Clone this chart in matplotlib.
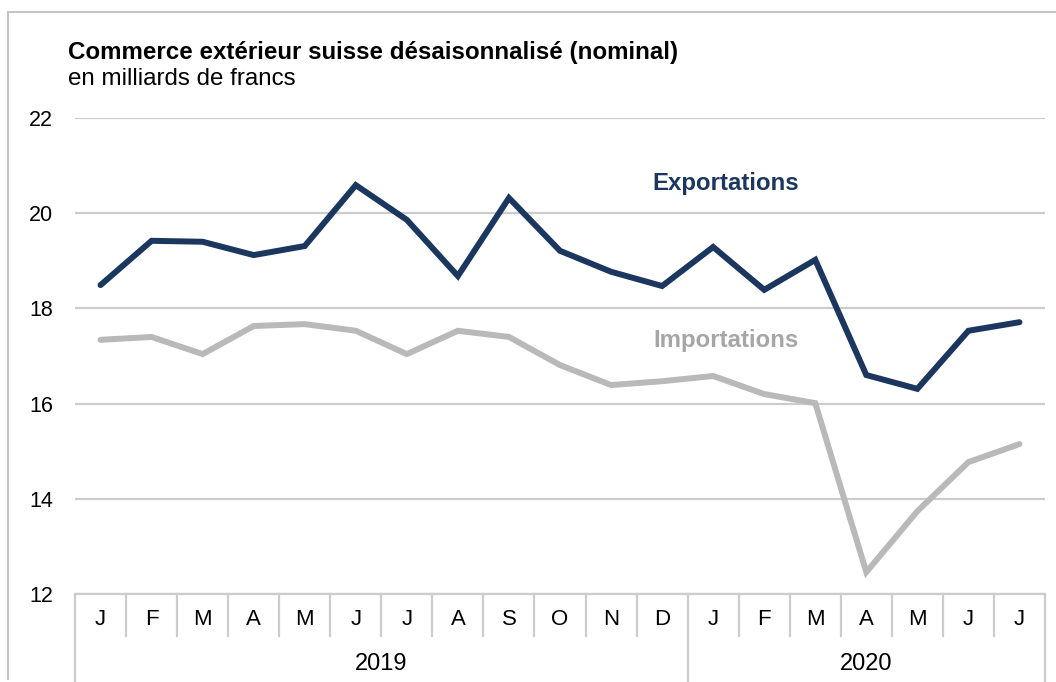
import matplotlib
matplotlib.use("Agg")
import matplotlib.pyplot as plt
from matplotlib.lines import Line2D
import numpy as np

NAVY, GREY, GRIDC = "#1b375f", "#b9b9b9", "#cccccc"
plt.rcParams.update({"font.family": ["Liberation Sans", "DejaVu Sans"]})

months = ["J", "F", "M", "A", "M", "J", "J", "A", "S", "O", "N", "D",
          "J", "F", "M", "A", "M", "J", "J"]
years = ["2019", "2020"]
year_len = [12, 7]
# seasonally adjusted, bn CHF
exports = [18.49, 19.42, 19.40, 19.12, 19.31, 20.59, 19.86, 18.68, 20.32,
           19.21, 18.77, 18.47, 19.29, 18.39, 19.02, 16.60, 16.31, 17.53, 17.71]
imports = [17.34, 17.40, 17.04, 17.63, 17.67, 17.53, 17.04, 17.53, 17.40,
           16.81, 16.39, 16.47, 16.58, 16.20, 16.01, 12.46, 13.74, 14.77, 15.15]

W, H = 1056, 682
fig = plt.figure(figsize=(W / 100, H / 100), dpi=100)
ax = fig.add_axes([75 / W, 1 - 594 / H, 970 / W, 476 / H])

x = np.arange(len(months))
ax.plot(x, imports, color=GREY, lw=4.3, solid_capstyle="round",
        solid_joinstyle="miter", zorder=3)
ax.plot(x, exports, color=NAVY, lw=4.3, solid_capstyle="round",
        solid_joinstyle="miter", zorder=4)

ax.set_xlim(-0.5, len(months) - 0.5)
ax.set_ylim(12, 22)
ax.set_yticks(np.arange(12, 23, 2))
ax.grid(axis="y", color=GRIDC, lw=1.6)
ax.set_axisbelow(True)
for s in ["top", "right", "left"]:
    ax.spines[s].set_visible(False)
ax.spines["bottom"].set_color(GRIDC)
ax.spines["bottom"].set_linewidth(1.6)
ax.tick_params(axis="y", length=0, pad=16, labelsize=15.5)
ax.set_xticks(x, months)
ax.tick_params(axis="x", length=0, pad=11, labelsize=16)

# category separators below the axis
short, long_ = -42 / 476, -90 / 476
bounds = np.cumsum([0] + year_len) - 0.5
for b in np.arange(-0.5, len(months), 1.0):
    depth = long_ if np.isclose(bounds, b).any() else short
    ax.plot([b, b], [0, depth], color=GRIDC, lw=1.6, clip_on=False,
            transform=ax.get_xaxis_transform())
for i, yr in enumerate(years):
    ax.text((bounds[i] + bounds[i + 1]) / 2, -70 / 476, yr, ha="center",
            va="center", fontsize=17, transform=ax.get_xaxis_transform())

ax.text(12.25, 20.62, "Exportations", color=NAVY, fontsize=17.3,
        fontweight="bold", ha="center", va="center")
ax.text(12.25, 17.32, "Importations", color="#a6a6a6", fontsize=17.3,
        fontweight="bold", ha="center", va="center")

fig.text(68 / W, 1 - 52 / H, "Commerce extérieur suisse désaisonnalisé (nominal)",
         fontsize=17.4, fontweight="bold", va="center")
fig.text(68 / W, 1 - 79 / H, "en milliards de francs", fontsize=17.4, va="center")

# outer frame (left and top edges visible)
fig.add_artist(Line2D([8 / W, 8 / W], [1 - 12 / H, 1 - 679 / H], color="#c4c4c4",
                      lw=1.5, transform=fig.transFigure))
fig.add_artist(Line2D([8 / W, 1], [1 - 12 / H, 1 - 12 / H], color="#c4c4c4",
                      lw=1.5, transform=fig.transFigure))

fig.savefig("out.png", dpi=100)
